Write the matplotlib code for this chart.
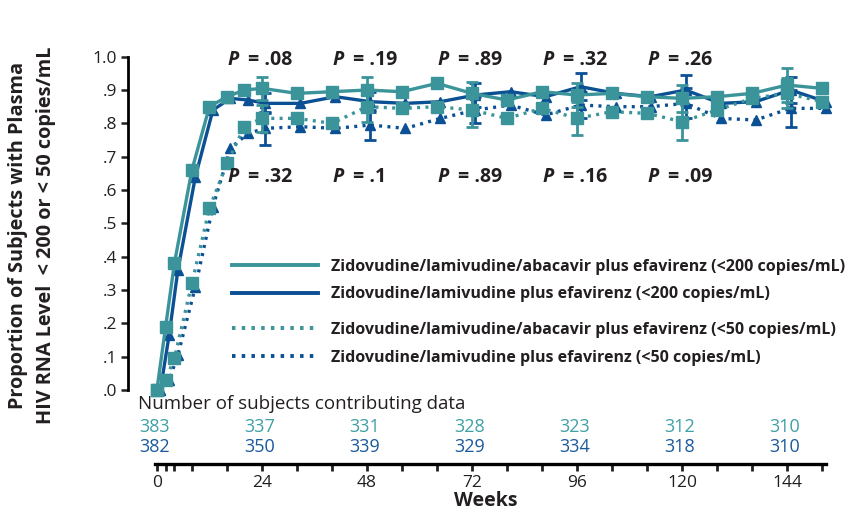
import matplotlib
matplotlib.use("Agg")
import matplotlib.pyplot as plt
from matplotlib.lines import Line2D

# study weeks with a measurement
weeks = [0, 2, 4, 8, 12, 16, 20, 24, 32, 40, 48, 56, 64, 72, 80, 88, 96, 104, 112, 120, 128, 136, 144, 152]

# proportion of subjects below threshold
abc_200 = [0, .19, .38, .66, .85, .88, .90, .905, .89, .895, .90, .895, .92, .89, .87, .895, .885, .89, .88, .875, .88, .89, .915, .905]
cbv_200 = [0, .165, .36, .64, .84, .875, .87, .86, .86, .88, .865, .86, .865, .885, .895, .88, .91, .89, .88, .90, .86, .865, .90, .865]
abc_50 = [0, .03, .095, .32, .545, .68, .79, .815, .815, .80, .85, .845, .85, .84, .815, .845, .815, .835, .83, .805, .84, .875, .89, .865]
cbv_50 = [0, .03, .105, .31, .55, .725, .77, .785, .79, .785, .795, .785, .815, .84, .855, .825, .855, .85, .85, .86, .815, .81, .845, .845]

# error bars (half width) at these weeks
err_weeks = [24, 48, 72, 96, 120, 144]
abc_200_err = [.035, .04, .035, .035, .04, .05]
cbv_200_err = [.03, .03, .035, .04, .045, .04]
abc_50_err = [.04, .045, .05, .05, .055, .045]
cbv_50_err = [.05, .045, .04, .04, .045, .055]

# p values
p_weeks = [24, 48, 72, 96, 120]
p_200 = [".08", ".19", ".89", ".32", ".26"]
p_50 = [".32", ".1", ".89", ".16", ".09"]

# number of subjects
n_weeks = [0, 24, 48, 72, 96, 120, 144]
n_abc = [383, 337, 331, 328, 323, 312, 310]
n_cbv = [382, 350, 339, 329, 334, 318, 310]
minor_weeks = [2, 4, 8, 16, 32, 40, 56, 64, 80, 88, 104, 112, 128, 136, 152]

labels = ["Zidovudine/lamivudine/abacavir plus efavirenz (<200 copies/mL)",
          "Zidovudine/lamivudine plus efavirenz (<200 copies/mL)",
          "Zidovudine/lamivudine/abacavir plus efavirenz (<50 copies/mL)",
          "Zidovudine/lamivudine plus efavirenz (<50 copies/mL)"]

TEAL = "#3a9499"
BLUE = "#0b4f94"
TEAL_TXT = "#3fa0a5"
BLUE_TXT = "#1a5a9c"
INK = "#231f20"
DOT = (0, (0.9, 1.6))
shift = 0.8  # blue series drawn slightly right

plt.rcParams['font.family'] = ['Open Sans', 'DejaVu Sans']

W, H = 849, 516
fig = plt.figure(figsize=(W / 100, H / 100), dpi=100)

ax = fig.add_axes([128 / W, (H - 390) / H, (844 - 128) / W, 333.3 / H])
ax.set_xlim(-6.6, 157)
ax.set_ylim(0, 1.0)
for s in ["top", "right", "bottom"]:
    ax.spines[s].set_visible(False)
ax.spines["left"].set_linewidth(2)
ax.set_xticks([])
ax.set_yticks([i / 10 for i in range(11)])
ax.set_yticklabels(["1.0" if i == 10 else "." + str(i) for i in range(11)], fontsize=12.5)
ax.tick_params(axis="y", length=5, width=1.8, pad=3, colors=INK)


def idx(w):
    return [weeks.index(x) for x in w]


def series(vals, errs, color, ls, marker, ms, dx):
    xs = [w + dx for w in weeks]
    ax.plot(xs, vals, color=color, ls=ls, lw=2.4, marker=marker, ms=ms,
            mfc=color, mec=color, clip_on=False)
    ii = idx(err_weeks)
    ax.errorbar([weeks[i] + dx for i in ii], [vals[i] for i in ii], yerr=errs,
                fmt="none", ecolor=color, elinewidth=2, capsize=4, capthick=2, clip_on=False)


series(cbv_50, cbv_50_err, BLUE, DOT, "^", 7, shift)
series(cbv_200, cbv_200_err, BLUE, "-", "^", 7, shift)
series(abc_50, abc_50_err, TEAL, DOT, "s", 8.5, 0)
series(abc_200, abc_200_err, TEAL, "-", "s", 8.5, 0)

for w, p1, p2 in zip(p_weeks, p_200, p_50):
    for y, p in [(0.99, p1), (0.639, p2)]:
        ax.annotate("P", xy=(w, y), xytext=(-16.5, 0), textcoords="offset points",
                    ha="right", va="center", fontsize=14, fontweight="bold", style="italic",
                    color=INK)
        ax.annotate("= " + p, xy=(w, y), xytext=(-10, 0), textcoords="offset points",
                    ha="left", va="center", fontsize=14, fontweight="bold", color=INK)

h1 = [Line2D([], [], color=TEAL, lw=2.8), Line2D([], [], color=BLUE, lw=2.8)]
h2 = [Line2D([], [], color=TEAL, lw=2.8, ls=DOT), Line2D([], [], color=BLUE, lw=2.8, ls=DOT)]
kw = dict(loc="upper left", frameon=False, borderpad=0, borderaxespad=0,
          handlelength=5.4, handletextpad=0.8, labelspacing=0.72,
          bbox_transform=fig.transFigure, prop={"weight": "bold", "size": 11.5})
leg1 = ax.legend(h1, labels[:2], bbox_to_anchor=(232 / W, (H - 259) / H), **kw)
ax.add_artist(leg1)
ax.legend(h2, labels[2:], bbox_to_anchor=(232 / W, (H - 322) / H), **kw)
for lg in [leg1, ax.get_legend()]:
    for t in lg.get_texts():
        t.set_color(INK)

fig.text(32 / W, (H - 235) / H,
         "Proportion of Subjects with Plasma\nHIV RNA Level  < 200 or < 50 copies/mL",
         rotation=90, ha="center", va="center", fontsize=14.3, fontweight="bold",
         linespacing=1.5, color=INK)

# bottom axis with subject counts, same week scale as the plot
ax2 = fig.add_axes([128 / W, (H - 464) / H, (844 - 128) / W, 69 / H])
ax2.set_xlim(-6.6, 157)
ax2.set_ylim(0, 1)
for s in ["top", "right", "left"]:
    ax2.spines[s].set_visible(False)
ax2.spines["bottom"].set_linewidth(2.4)
ax2.spines["bottom"].set_bounds(-0.4, 153)
ax2.set_yticks([])
ax2.set_xticks(n_weeks)
ax2.set_xticks(minor_weeks, minor=True)
ax2.set_xticklabels([str(w) for w in n_weeks], fontsize=12.5)
ax2.tick_params(axis="x", which="both", length=5, width=2, pad=3, colors=INK)
ax2.set_xlabel("Weeks", fontsize=14, fontweight="bold", labelpad=0, color=INK)
ax2.patch.set_visible(False)

ax2.text(-4.3, 0.871, "Number of subjects contributing data", ha="left", va="center",
         fontsize=13.5, color=INK)
for w, a, b in zip(n_weeks, n_abc, n_cbv):
    ax2.text(w - 0.6, 0.529, str(a), ha="center", va="center", fontsize=13, color=TEAL_TXT)
    ax2.text(w - 0.6, 0.243, str(b), ha="center", va="center", fontsize=13, color=BLUE_TXT)

fig.savefig("out.png", dpi=100)
